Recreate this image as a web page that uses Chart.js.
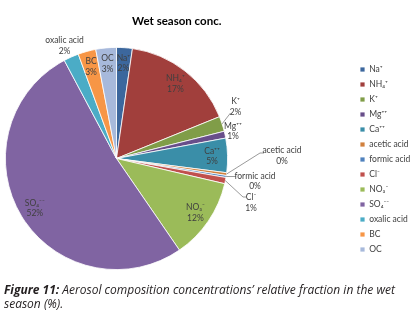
<!DOCTYPE html>
<html>
<head>
<meta charset="utf-8">
<script src="https://cdn.jsdelivr.net/npm/chart.js@4.4.0/dist/chart.umd.min.js"></script>
<style>
  html, body { margin: 0; padding: 0; background: #fff; }
  #wrap { position: relative; width: 413px; height: 317px; overflow: hidden; }
  #wrap canvas { position: absolute; left: 0; top: 0; }
  #caption {
    position: absolute; left: 4px; top: 283px; width: 409px;
    font: italic 12px "Open Sans", "Liberation Sans", sans-serif;
    line-height: 14px; color: #231f20; white-space: nowrap;
  }
</style>
</head>
<body>
<div id="wrap">
  <canvas id="graficoPizza" width="413" height="317"></canvas>
  <div id="caption"><b>Figure 11:</b> Aerosol composition concentrations’ relative fraction in the wet<br>season (%).</div>
</div>
<script>
// dados (fração relativa, %)
const componentes = ["Na⁺", "NH₄⁺", "K⁺", "Mg⁺⁺", "Ca⁺⁺", "acetic acid", "formic acid",
                     "Cl⁻", "NO₃⁻", "SO₄⁻⁻", "oxalic acid", "BC", "OC"];
const valores = [2.3, 16.6, 2.2, 1.0, 5.0, 0.4, 0.3, 0.9, 11.8, 51.9, 2.2, 2.6, 3.0];
const cores = ["#3c679d", "#a13f3c", "#809d48", "#684e8a", "#3a8ea8", "#d1803d", "#4f81bd",
               "#c0504d", "#9bbb59", "#8064a2", "#4bacc6", "#f79646", "#a7b9db"];

// pizza: centro e raio em px
const PIE_CX = 116.5, PIE_CY = 158.5, PIE_R = 111.5;

// rótulos fora da pizza (deslocamento a partir do centro)
const chamadas = {
    "K⁺":          { dx: 119,   dy: -52,  ponta: [-5, 6.5],   haste: 0 },
    "Mg⁺⁺":        { dx: 116.5, dy: -27.5 },
    "acetic acid": { dx: 165.5, dy: -3,   ponta: [-18, -2.5], haste: 4 },
    "formic acid": { dx: 138.5, dy: 22.5, ponta: [-19, -4.5], haste: 2 },
    "Cl⁻":         { dx: 134.5, dy: 44,   ponta: [-5, -5.5],  haste: 3 },
    "oxalic acid": { dx: -52,   dy: -113 }
};

const rotulosPizza = {
    id: "rotulosPizza",
    afterLayout(chart) {
        const a = chart.chartArea;
        a.left = PIE_CX - PIE_R; a.right = PIE_CX + PIE_R;
        a.top = PIE_CY - PIE_R; a.bottom = PIE_CY + PIE_R;
        a.width = 2 * PIE_R; a.height = 2 * PIE_R;
    },
    afterDatasetsDraw(chart) {
        const ctx = chart.ctx;
        const meta = chart.getDatasetMeta(0);
        const total = valores.reduce((s, v) => s + v, 0);
        ctx.save();
        ctx.font = "8.5px Lato, 'DejaVu Sans'";
        ctx.fillStyle = "#404040";
        ctx.textAlign = "center";
        ctx.textBaseline = "middle";
        meta.data.forEach((arc, i) => {
            const p = arc.getProps(["x", "y", "startAngle", "endAngle", "outerRadius"], true);
            const meio = (p.startAngle + p.endAngle) / 2;
            const nome = componentes[i];
            const pct = Math.round(valores[i] / total * 100) + "%";
            const fora = chamadas[nome];
            let lx, ly;
            if (fora) {
                lx = p.x + fora.dx;
                ly = p.y + fora.dy;
            } else {
                lx = p.x + Math.cos(meio) * p.outerRadius * 0.86;
                ly = p.y + Math.sin(meio) * p.outerRadius * 0.86;
            }
            if (fora && fora.ponta) {
                const ex = p.x + Math.cos(meio) * p.outerRadius;
                const ey = p.y + Math.sin(meio) * p.outerRadius;
                const tx = lx + fora.ponta[0], ty = ly + fora.ponta[1];
                ctx.strokeStyle = "#808080";
                ctx.lineWidth = 0.8;
                ctx.beginPath();
                ctx.moveTo(ex, ey);
                ctx.lineTo(tx - fora.haste, ty);
                ctx.lineTo(tx, ty);
                ctx.stroke();
            }
            ctx.fillText(nome, lx, ly - 5);
            ctx.fillText(pct, lx, ly + 5.5);
        });
        ctx.restore();
    }
};

const ctx = document.getElementById("graficoPizza").getContext("2d");
new Chart(ctx, {
    type: "pie",
    data: {
        labels: componentes,
        datasets: [{
            data: valores,
            backgroundColor: cores,
            borderColor: "#ffffff",
            borderWidth: 0.8,
            clip: false
        }]
    },
    options: {
        responsive: false,
        animation: false,
        layout: { padding: { top: 2, right: 0 } },
        plugins: {
            title: {
                display: true,
                text: "Wet season conc.",
                fullSize: false,
                color: "#000",
                font: { family: "Lato", size: 11.5, weight: "bold" },
                padding: { top: 12, bottom: 8 }
            },
            legend: {
                position: "right",
                maxWidth: 59.5,
                labels: {
                    boxWidth: 5,
                    boxHeight: 5,
                    padding: 6.5,
                    color: "#404040",
                    font: { family: "Lato, 'DejaVu Sans'", size: 8.5 }
                }
            },
            tooltip: { enabled: false }
        }
    },
    plugins: [rotulosPizza]
});
</script>
</body>
</html>
